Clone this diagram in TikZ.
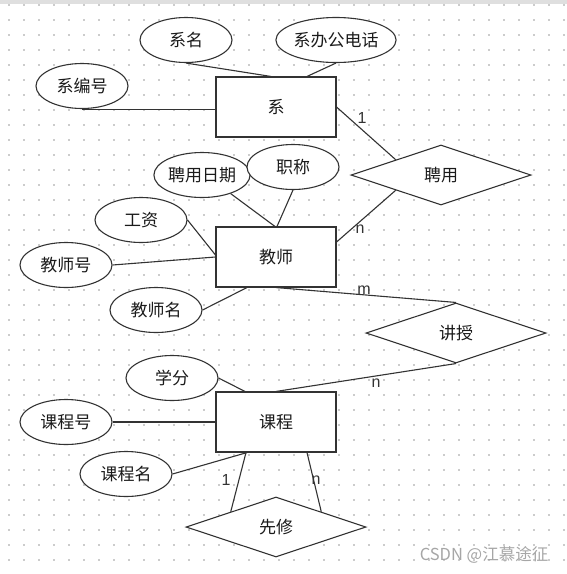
\documentclass[tikz,border=0pt]{standalone}
\usepackage{fontspec}
\setmainfont{Liberation Sans}
\newfontfamily\cjk{Noto Sans CJK SC}
\usetikzlibrary{shapes.geometric,calc}
\definecolor{ink}{HTML}{333333}
\definecolor{txt}{HTML}{1A1A1A}
\definecolor{dotc}{HTML}{CCCCCC}
\begin{document}
\begin{tikzpicture}[x=1pt,y=-1pt,
  attr/.style={ellipse,draw=ink,fill=white,line width=1.1pt,inner sep=0pt,minimum width=92pt,minimum height=45pt,text=txt,font=\cjk\fontsize{17}{17}\selectfont},
  ent/.style={rectangle,draw=ink,fill=white,line width=1.1pt,minimum width=120pt,minimum height=60pt,text=txt,font=\cjk\fontsize{17}{17}\selectfont},
  rel/.style={diamond,draw=ink,fill=white,line width=1.1pt,inner sep=0pt,minimum width=180pt,minimum height=60pt,text=txt,font=\cjk\fontsize{17}{17}\selectfont},
  conn/.style={draw=ink,line width=1.1pt},
  card/.style={font=\fontsize{16}{16}\selectfont,text=ink,inner sep=0pt}]
\useasboundingbox (0,0) rectangle (567,574);
\fill[white] (0,0) rectangle (567,574);
\fill[gray!25] (0,0) rectangle (567,4);
\foreach \i in {0,...,37} {\foreach \j in {0,...,38} {
  \fill[dotc] ({9+15*\i-0.75},{5+15*\j-0.75}) rectangle ++(1.5,1.5);}}
% entities
\node[ent] (xi) at (276,107) {系};
\node[ent] (js) at (276,257) {教师};
\node[ent] (kc) at (276,422) {课程};
% relations
\node[rel] (py) at (441,175) {聘用};
\node[rel] (jsk) at (456,333) {讲授};
\node[rel] (xx) at (276,527) {先修};
% attributes
\node[attr] (xm) at (186,40) {系名};
\node[attr] (xbdh) at (336,40) {系办公电话};
\node[attr] (xbh) at (82,86) {系编号};
\node[attr] (rq) at (202,175) {聘用日期};
\node[attr] (zc) at (293,167) {职称};
\node[attr] (gz) at (141,220) {工资};
\node[attr] (jsh) at (66,265) {教师号};
\node[attr] (jsm) at (156,310) {教师名};
\node[attr] (xf) at (172,378) {学分};
\node[attr] (kch) at (66,422) {课程号};
\node[attr] (kcm) at (126,474) {课程名};
% connectors
\draw[conn] (xm.south) -- ([xshift=-5pt]xi.north);
\draw[conn] (xbdh.south) -- ([xshift=31pt]xi.north);
\draw[conn] (xbh.south) -- (xbh.south -| xi.west);
\draw[conn] (xi.east) -- ($(py.west)!0.5!(py.north)$);
\draw[conn] ($(py.west)!0.5!(py.south)$) -- ([yshift=15pt]js.east);
\draw[conn] (rq.-33) -- ([xshift=-1pt]js.north);
\draw[conn] (zc.south) -- ([xshift=1pt]js.north);
\draw[conn] (gz.east) -- ([yshift=2pt]js.west);
\draw[conn] (jsh.east) -- (js.west);
\draw[conn] (jsm.east) -- ([xshift=-29pt]js.south);
\draw[conn] (js.south) -- (jsk.north);
\draw[conn] (jsk.south) -- (kc.north);
\draw[conn] (xf.east) -- ([xshift=-31pt]kc.north);
\draw[conn] (kch.east) -- (kc.west);
\draw[conn] (kcm.east) -- ([xshift=-29pt]kc.south);
\draw[conn] ([xshift=-30pt]kc.south) -- ($(xx.west)!0.5!(xx.north)$);
\draw[conn] ([xshift=31pt]kc.south) -- ($(xx.east)!0.5!(xx.north)$);
% cardinalities
\node[card] (c1) at (362,118) {1};
\node[card] (c2) at (360,229) {n};
\node[card] (c3) at (364,290) {m};
\node[card] (c4) at (376,383) {n};
\node[card] (c5) at (226,480) {1};
\node[card] (c6) at (316,480) {n};
% watermark
\node[font=\cjk\fontsize{16.5}{16.5}\selectfont,text=gray!70,inner sep=0pt] (wm) at (484,555) {CSDN @江慕途征};
\end{tikzpicture}
\end{document}
